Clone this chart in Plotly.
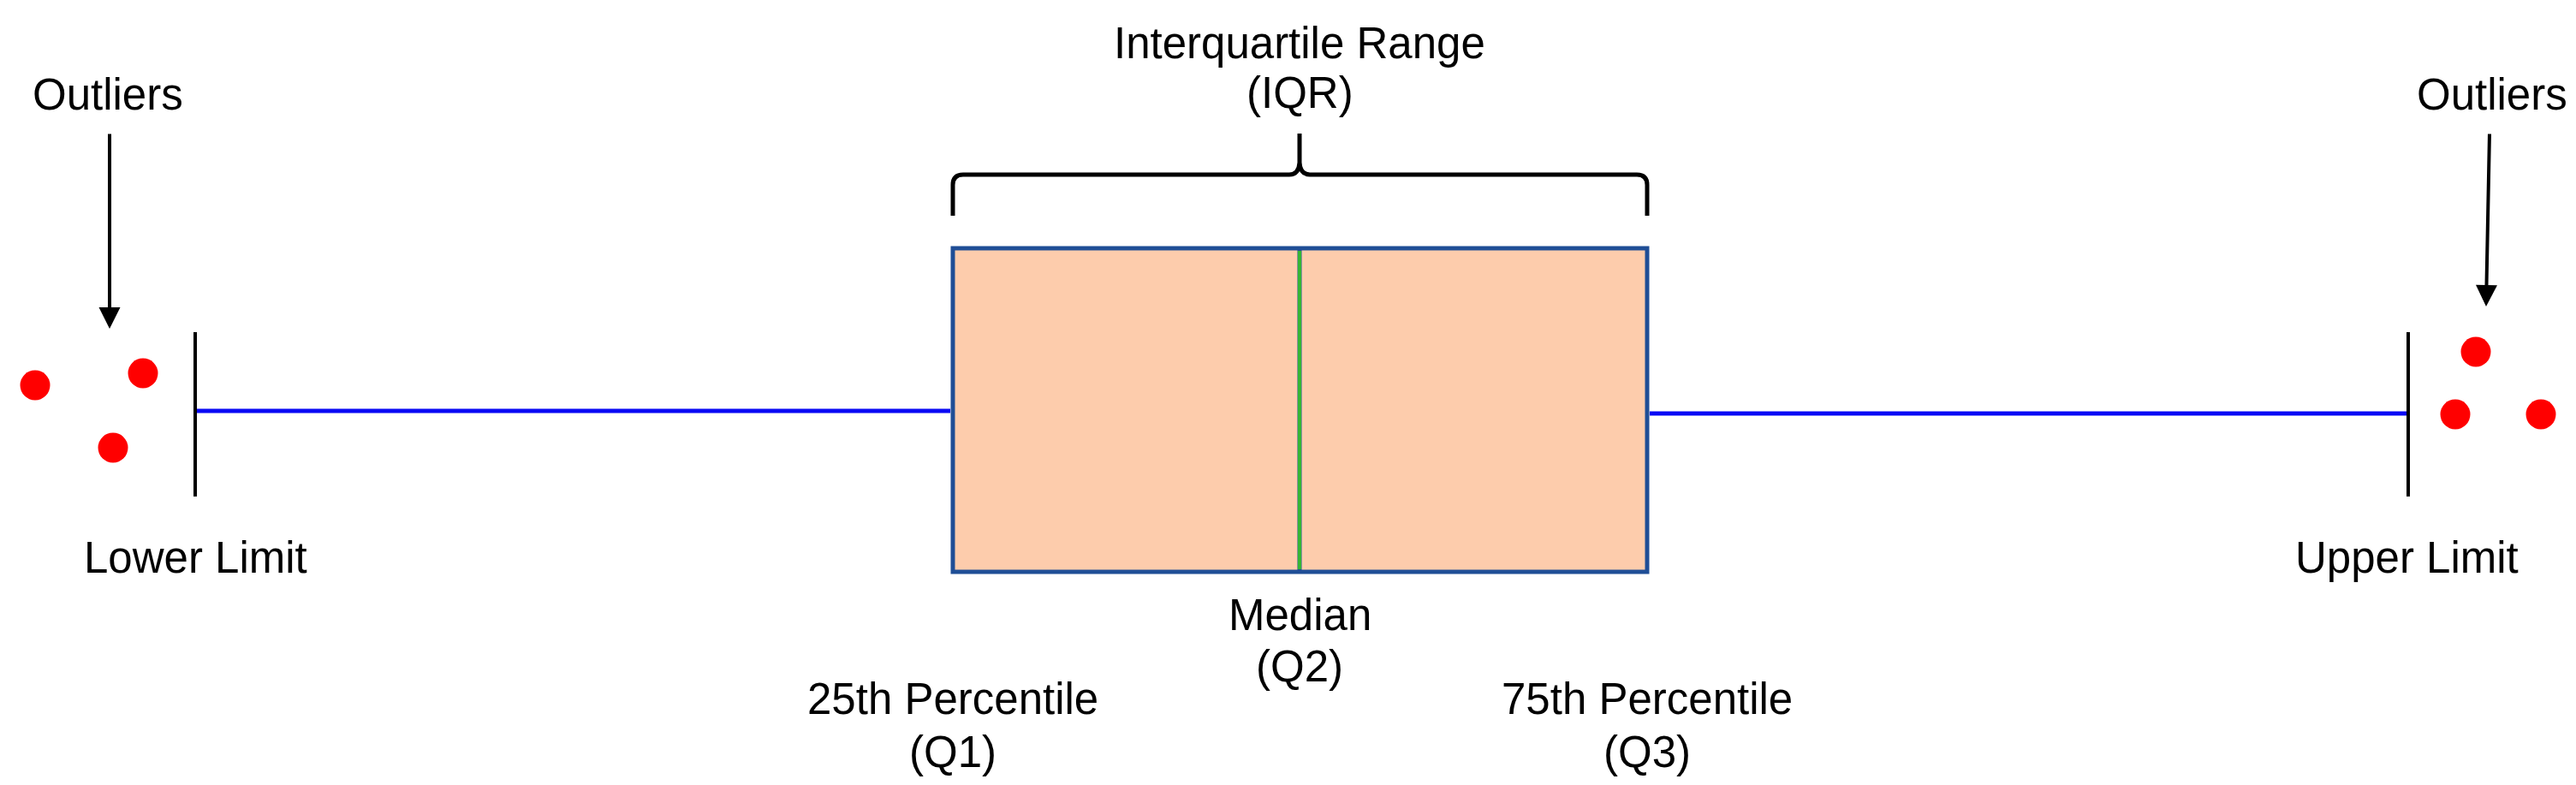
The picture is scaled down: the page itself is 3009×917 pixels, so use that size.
import plotly.graph_objects as go

# box summary (drawing units, y grows downward)
lower_limit = 228
q1 = 1113
median = 1518
q3 = 1924
upper_limit = 2813

box_center = 479
box_height = 378
whisker_y = [480, 483]
cap_span = [388, 580]

outliers_low_x = [41, 167, 132]
outliers_low_y = [450, 436, 523]
outliers_high_x = [2892, 2868, 2968]
outliers_high_y = [411, 484, 484]

# labels: text, x, y
labels = [
    ('Outliers', 126, 110),
    ('Outliers', 2911, 110),
    ('Lower Limit', lower_limit, 651),
    ('Upper Limit', upper_limit - 2, 651),
    ('Interquartile Range', median, 50),
    ('(IQR)', median, 108),
    ('Median', median, 718),
    ('(Q2)', median, 778),
    ('25th Percentile', q1, 816),
    ('(Q1)', q1, 878),
    ('75th Percentile', q3, 816),
    ('(Q3)', q3, 878),
]

# arrows: tail (x, y) -> tip (x, y)
arrows = [
    ((128, 155), (128, 384)),
    ((2908, 155), (2904, 358)),
]

FONT = dict(family='Liberation Sans, Arial, sans-serif', size=51, color='black')
BOX_FILL = '#FDCCAC'
BOX_LINE = '#1F4E96'
WHISKER = '#0A0AF5'
MEDIAN = '#35B535'
PAGE_OFFSET = 8  # body margin of the written page

fig = go.Figure()

# the whiskers are drawn separately in their own colour, so the box trace stops at the quartiles
fig.add_trace(go.Box(
    orientation='h', y=[box_center],
    q1=[q1], median=[median], q3=[q3],
    lowerfence=[q1], upperfence=[q3],
    width=box_height, whiskerwidth=0, boxpoints=False,
    fillcolor=BOX_FILL, line=dict(color=BOX_LINE, width=5),
    hoverinfo='skip', showlegend=False,
))

# whiskers
fig.add_trace(go.Scatter(x=[lower_limit, q1 - 3], y=[whisker_y[0]] * 2, mode='lines',
                         line=dict(color=WHISKER, width=5), hoverinfo='skip', showlegend=False))
fig.add_trace(go.Scatter(x=[q3 + 3, upper_limit], y=[whisker_y[1]] * 2, mode='lines',
                         line=dict(color=WHISKER, width=5), hoverinfo='skip', showlegend=False))

# limit caps
for xv in [lower_limit, upper_limit]:
    fig.add_trace(go.Scatter(x=[xv, xv], y=cap_span, mode='lines',
                             line=dict(color='black', width=4), hoverinfo='skip', showlegend=False))

# median line
half = box_height / 2 - 3
fig.add_trace(go.Scatter(x=[median, median], y=[box_center - half, box_center + half], mode='lines',
                         line=dict(color=MEDIAN, width=4), hoverinfo='skip', showlegend=False))

# outliers
fig.add_trace(go.Scatter(x=outliers_low_x + outliers_high_x, y=outliers_low_y + outliers_high_y,
                         mode='markers', marker=dict(color='#FF0000', size=35, line=dict(width=0)),
                         hoverinfo='skip', showlegend=False))

# curly brace over the IQR
b_bot, b_mid, b_top, b_cusp, r = 252, 204, 156, 190, 12
brace = (
    f'M{q1},{b_bot} L{q1},{b_mid + r} Q{q1},{b_mid} {q1 + r},{b_mid} '
    f'L{median - r},{b_mid} Q{median - 1},{b_mid} {median},{b_cusp} L{median},{b_top} '
    f'M{median},{b_cusp} Q{median + 1},{b_mid} {median + r},{b_mid} '
    f'L{q3 - r},{b_mid} Q{q3},{b_mid} {q3},{b_mid + r} L{q3},{b_bot}'
)
fig.add_shape(type='path', path=brace, xref='x', yref='y', line=dict(color='black', width=5))

for (ax, ay), (tx, ty) in arrows:
    fig.add_annotation(x=tx, y=ty, ax=ax, ay=ay, axref='x', ayref='y', text='',
                       showarrow=True, arrowhead=2, arrowwidth=4, arrowsize=1.25,
                       arrowcolor='black', standoff=0, startstandoff=0)

for txt, xv, yv in labels:
    fig.add_annotation(x=xv, y=yv, text=txt, showarrow=False, font=FONT,
                       xanchor='center', yanchor='middle')

fig.update_xaxes(range=[PAGE_OFFSET, 3009 + PAGE_OFFSET], visible=False, fixedrange=True)
fig.update_yaxes(range=[917 + PAGE_OFFSET, PAGE_OFFSET], visible=False, fixedrange=True)
fig.update_layout(width=3009, height=917, margin=dict(l=0, r=0, t=0, b=0),
                  plot_bgcolor='white', paper_bgcolor='white')

fig.write_html('out.html')
